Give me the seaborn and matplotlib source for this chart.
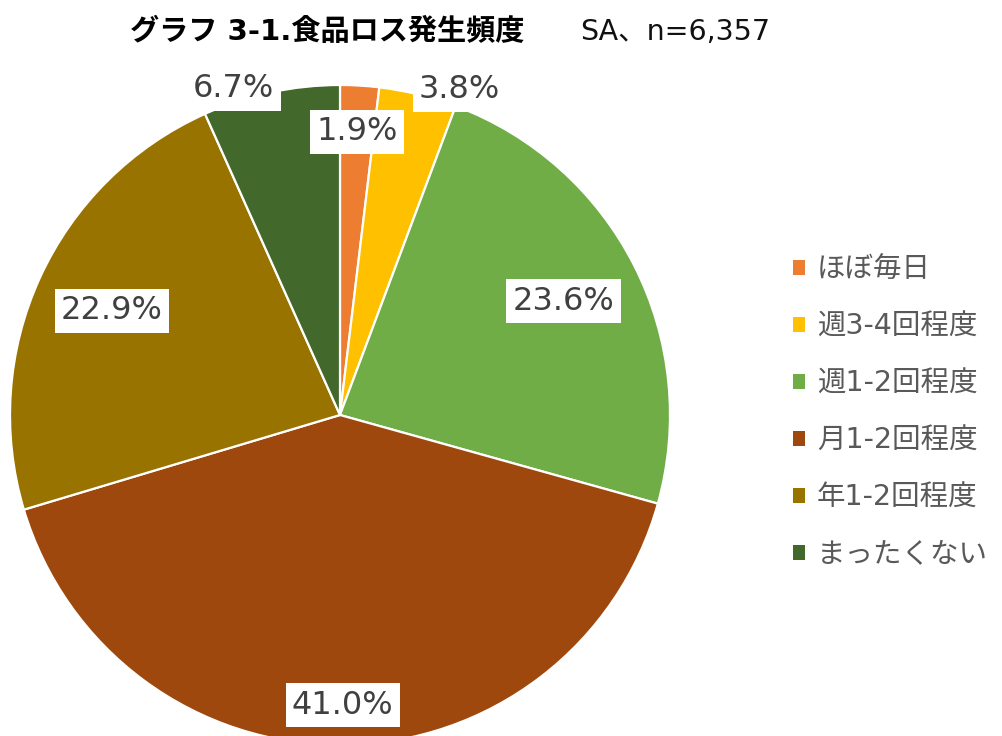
import numpy as np
import matplotlib
matplotlib.use('Agg')
import matplotlib.pyplot as plt
from matplotlib.patches import Patch
import seaborn as sns

# データ
categories = ['ほぼ毎日', '週3-4回程度', '週1-2回程度', '月1-2回程度', '年1-2回程度', 'まったくない']
shares = [1.9, 3.8, 23.6, 41.0, 22.9, 6.7]
colors = ['#ED7D31', '#FFC000', '#70AD47', '#9E480E', '#997300', '#43682B']

# ラベル位置 (半径, 角度のずらし[度])
label_radius = [0.86, 1.05, 0.76, 0.88, 0.76, 1.04]
label_shift = [0.0, -6.5, 0.0, 0.0, 0.0, 6.0]

sns.set_theme(style='white')
plt.rcParams['font.family'] = ['DejaVu Sans', 'Noto Sans CJK JP']

fig = plt.figure(figsize=(10.02, 7.36), dpi=100)
# 円の中心 (340, 415)px, 半径 330px
ax = fig.add_axes([10 / 1002, (736 - 745) / 736, 660 / 1002, 660 / 736])
wedges, _ = ax.pie(shares, colors=colors, startangle=90, counterclock=False,
                   radius=1.0, wedgeprops=dict(edgecolor='white', linewidth=1.6))
ax.set_xlim(-1, 1)
ax.set_ylim(-1, 1)
ax.set_aspect('equal')
ax.axis('off')

for w, val, r, d in zip(wedges, shares, label_radius, label_shift):
    ang = np.deg2rad((w.theta1 + w.theta2) / 2 + d)
    ax.text(r * np.cos(ang), r * np.sin(ang), f'{val:.1f}%', ha='center', va='center',
            fontsize=23, color='#404040', zorder=5,
            bbox=dict(boxstyle='square,pad=0.2', facecolor='white', edgecolor='none'))

# タイトル
fig.text(130 / 1002, 1 - 32 / 736, 'グラフ 3-1.食品ロス発生頻度', ha='left', va='center',
         fontsize=21, fontweight='bold', color='black')
fig.text(580 / 1002, 1 - 32 / 736, 'SA、n=6,357', ha='left', va='center',
         fontsize=20.5, color='#111111')

handles = [Patch(facecolor=c, edgecolor='none') for c in colors]
leg = fig.legend(handles, categories, loc='center left', bbox_to_anchor=(793 / 1002, 1 - 412 / 736),
                 frameon=False, fontsize=20.5, handlelength=0.42, handleheight=0.42,
                 handletextpad=0.42, labelspacing=1.02, borderpad=0, borderaxespad=0)
for t in leg.get_texts():
    t.set_color('#595959')

fig.savefig('out.png', dpi=100)
